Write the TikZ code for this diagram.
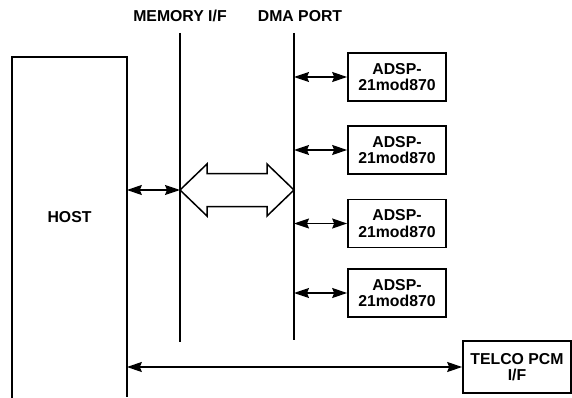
\documentclass[tikz,border=0pt]{standalone}
\usepackage{fontspec}
\setmainfont{Liberation Sans}
\usetikzlibrary{arrows.meta}

\tikzset{chip/.style={draw, align=center, inner sep=0pt, minimum width=98pt, minimum height=48pt},
         link/.style={{Stealth[length=15pt,width=10pt,inset=2pt]}-{Stealth[length=15pt,width=10pt,inset=2pt]}, line width=1.4pt}}

\begin{document}
\begin{tikzpicture}[x=1pt, y=-1pt, font=\fontsize{15.8}{16.5}\selectfont\bfseries, line width=1.7pt]
\useasboundingbox (0,0) rectangle (572,398);

\node (host) at (69.5, 217) [minimum width=113pt, minimum height=318pt, inner sep=0pt] {HOST};
\node (memlabel) at (180, 16) {MEMORY I/F};
\node (dmalabel) at (300, 16) {DMA PORT};
\coordinate (memtop) at (180, 33);
\coordinate (membot) at (180, 342);
\coordinate (dmatop) at (294, 33);
\coordinate (dmabot) at (294, 340);
\coordinate (busl) at (180, 190);
\coordinate (busr) at (294, 190);
\node (dsp1) at (397, 77) [chip] {ADSP-\\21mod870};
\node (dsp2) at (397, 150) [chip] {ADSP-\\21mod870};
\node (dsp3) at (397, 223.5) [chip] {ADSP-\\21mod870};
\node (dsp4) at (397, 293) [chip] {ADSP-\\21mod870};
\node (telco) at (517, 367) [chip, minimum width=108pt, minimum height=52pt] {TELCO PCM\\I/F};

% host box runs off the bottom edge
\draw (host.south west) ++(0,22) -- (host.north west) -- (host.north east) -- ++(0,340);
\draw (memtop) -- (membot);
\draw (dmatop) -- (dmabot);

% wide bus between memory i/f and dma port
\draw[line width=1.5pt, line join=miter] (busl) -- ++(27,-26) -- ++(0,9.5) -- ++(60,0) -- ++(0,-9.5) -- (busr)
      -- ++(-27,26) -- ++(0,-9.5) -- ++(-60,0) -- ++(0,9.5) -- cycle;

\draw[link] (host.east |- busl) -- (busl);
\draw[link] (dsp1.west -| dmatop) -- (dsp1.west);
\draw[link] (dsp2.west -| dmatop) -- (dsp2.west);
\draw[link] (dsp3.west -| dmatop) -- (dsp3.west);
\draw[link] (dsp4.west -| dmatop) -- (dsp4.west);
\draw[link] (host.east |- telco.west) -- (telco.west);
\end{tikzpicture}
\end{document}
